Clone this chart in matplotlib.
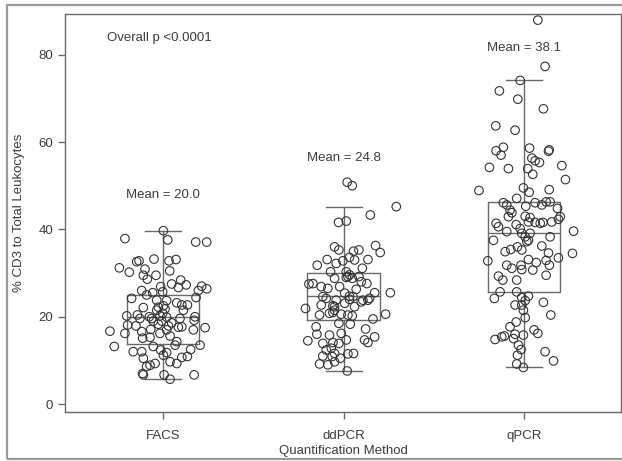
import matplotlib
matplotlib.use("Agg")
import matplotlib.pyplot as plt
from matplotlib.patches import Rectangle

plt.rcParams['font.family'] = ['Liberation Sans', 'DejaVu Sans']

methods = ["FACS", "ddPCR", "qPCR"]
means = [20.0, 24.8, 38.1]
whisker_low = [5.7, 7.5, 8.4]
q1 = [13.7, 19.2, 25.7]
medians = [20.0, 24.7, 39.2]
q3 = [25.0, 30.1, 46.3]
whisker_high = [39.6, 45.1, 74.1]
mean_label_y = [47.9, 56.4, 81.6]

# individual points: horizontal jitter and value
facs_dx = [0.002, -0.211, 0.026, 0.181, 0.242, -0.146, -0.133, -0.050, 0.033, 0.072,
           -0.242, -0.187, -0.100, -0.109, -0.039, 0.037, -0.087, 0.048, 0.098, 0.128,
           0.085, 0.214, 0.242, 0.196, -0.118, -0.013, -0.002, -0.091, -0.057, 0.183,
           -0.174, -0.035, 0.020, 0.076, 0.104, 0.135, -0.109, -0.026, 0.002, 0.113,
           -0.201, -0.142, -0.076, -0.063, -0.017, -0.002, 0.020, 0.177, 0.172, 0.094,
           0.048, 0.030, -0.294, -0.211, -0.196, -0.150, -0.118, -0.068, -0.017, 0.085,
           0.104, 0.168, 0.233, -0.113, -0.072, 0.039, 0.076, 0.067, -0.270, 0.205,
           -0.165, -0.118, -0.054, -0.013, 0.002, 0.020, -0.109, -0.072, 0.039, 0.076,
           0.104, 0.135, 0.153, -0.113, -0.109, 0.006, 0.039, 0.172, -0.044, -0.091,
           -0.035, -0.007, -0.026, 0.011, -0.054, 0.020, -0.128]
facs_y = [39.7, 37.9, 37.6, 37.1, 37.1, 32.6, 32.8, 33.2, 32.8, 33.1,
          31.2, 30.2, 30.9, 29.5, 29.5, 30.5, 28.6, 27.5, 28.4, 27.3,
          26.7, 27.0, 26.4, 26.0, 26.0, 26.9, 25.7, 25.0, 25.5, 24.4,
          24.2, 23.8, 23.7, 23.2, 22.7, 22.7, 22.1, 22.2, 22.5, 21.5,
          20.2, 20.4, 20.0, 19.6, 20.2, 20.8, 19.9, 20.0, 19.2, 19.6,
          18.6, 17.9, 16.7, 16.2, 18.1, 17.9, 16.6, 17.1, 16.2, 17.6,
          17.7, 17.0, 17.5, 15.1, 15.3, 15.6, 14.3, 13.5, 13.2, 13.5,
          12.0, 12.0, 13.2, 12.4, 11.2, 11.8, 10.5, 8.9, 9.7, 9.3,
          10.7, 10.9, 12.5, 7.0, 6.7, 6.7, 5.7, 6.7, 9.3, 8.6,
          21.5, 19.0, 18.3, 21.8, 19.0, 17.0, 19.6]

ddpcr_dx = [0.020, 0.048, 0.292, 0.148, -0.028, 0.015, -0.050, -0.026, 0.055, 0.085,
            0.177, 0.203, -0.091, 0.135, -0.146, -0.041, -0.004, 0.033, 0.061, 0.104,
            -0.072, -0.050, 0.015, 0.033, 0.048, 0.024, 0.085, 0.098, 0.129, -0.192,
            -0.170, -0.124, -0.087, -0.022, 0.070, 0.172, 0.144, 0.107, 0.259, -0.115,
            -0.096, 0.006, 0.033, 0.052, -0.041, -0.211, -0.124, -0.059, -0.050, 0.006,
            0.061, 0.098, 0.135, -0.133, -0.078, -0.013, 0.024, 0.048, 0.163, 0.233,
            -0.152, 0.037, -0.026, 0.122, -0.148, -0.078, -0.013, 0.015, 0.172, 0.116,
            0.135, -0.198, -0.115, -0.059, -0.026, -0.096, -0.068, -0.050, 0.024, 0.055,
            -0.115, -0.063, -0.018, -0.133, -0.087, -0.050, 0.020, 0.015, 0.033, -0.050,
            -0.059]
ddpcr_y = [50.8, 50.0, 45.2, 43.3, 41.6, 41.9, 36.0, 35.3, 35.0, 35.3,
           36.3, 34.7, 33.1, 33.1, 31.8, 32.2, 32.8, 33.6, 33.0, 31.1,
           30.3, 28.8, 30.3, 29.6, 28.8, 29.2, 29.2, 28.0, 27.6, 27.5,
           27.6, 26.9, 26.5, 26.9, 26.3, 25.5, 24.2, 23.8, 25.5, 24.6,
           24.2, 25.4, 24.7, 24.6, 23.8, 21.9, 22.7, 22.5, 22.3, 23.1,
           22.3, 23.4, 23.8, 20.4, 20.8, 20.6, 20.4, 20.2, 19.5, 20.6,
           17.7, 18.3, 18.5, 17.2, 16.0, 15.8, 16.2, 14.7, 15.4, 14.7,
           14.1, 14.5, 13.9, 14.1, 13.9, 12.4, 12.8, 11.6, 11.5, 11.6,
           11.0, 10.9, 10.5, 9.2, 9.0, 9.7, 7.6, 29.0, 24.0, 21.5,
           21.0]

qpcr_dx = [0.076, 0.116, -0.022, -0.137, -0.035, 0.107, -0.157, -0.050, -0.115, -0.155,
           -0.128, 0.030, 0.043, 0.061, 0.085, 0.139, 0.135, -0.192, -0.087, 0.020,
           0.048, 0.209, 0.229, -0.250, -0.004, 0.028, 0.139, -0.041, -0.115, -0.096,
           -0.078, -0.068, -0.087, 0.009, 0.061, 0.098, 0.122, 0.144, 0.185, 0.200,
           0.190, 0.006, 0.033, 0.024, 0.061, 0.089, 0.104, 0.153, -0.155, -0.142,
           -0.044, -0.022, -0.013, 0.006, 0.033, 0.024, 0.015, -0.096, 0.274, 0.144,
           -0.170, -0.105, -0.074, -0.037, -0.013, 0.098, 0.135, 0.268, -0.201, 0.024,
           0.067, 0.122, 0.140, 0.190, -0.096, -0.068, -0.017, -0.013, 0.048, 0.122,
           -0.142, -0.118, -0.041, -0.133, -0.041, -0.165, -0.013, 0.024, 0.006, -0.013,
           -0.004, 0.107, -0.050, 0.148, 0.006, -0.078, -0.044, 0.055, 0.076, -0.161,
           -0.124, -0.109, -0.059, -0.050, -0.004, -0.031, -0.017, -0.037, 0.116, 0.163,
           -0.041, -0.004]
qpcr_y = [87.9, 77.3, 74.1, 71.7, 69.8, 67.6, 63.7, 62.7, 58.8, 58.0,
          57.0, 58.6, 56.3, 55.7, 55.3, 58.2, 57.9, 54.2, 53.9, 53.9,
          52.6, 54.6, 51.4, 48.9, 49.5, 48.5, 49.1, 47.1, 46.1, 45.6,
          44.4, 43.8, 42.9, 45.3, 46.1, 45.6, 46.3, 46.3, 44.8, 42.9,
          42.3, 43.0, 42.7, 41.7, 41.6, 41.4, 41.6, 41.7, 41.4, 40.6,
          41.1, 40.2, 39.1, 38.3, 39.1, 37.5, 37.2, 39.5, 39.6, 38.3,
          37.5, 34.9, 35.4, 36.0, 35.3, 36.2, 34.6, 34.5, 32.8, 33.1,
          32.4, 32.9, 31.8, 33.5, 31.8, 31.1, 31.8, 30.8, 30.7, 29.5,
          29.3, 28.4, 28.4, 25.7, 25.7, 24.2, 24.4, 24.7, 23.7, 22.7,
          21.5, 23.3, 22.7, 20.4, 19.8, 17.7, 18.8, 17.0, 16.2, 14.8,
          15.4, 15.6, 15.0, 16.0, 15.8, 13.5, 12.5, 11.2, 12.0, 9.9,
          9.2, 8.4]

point_dx = [facs_dx, ddpcr_dx, qpcr_dx]
point_y = [facs_y, ddpcr_y, qpcr_y]

line_col = "#6a6a6a"
text_col = "#3c3c3c"

fig = plt.figure(figsize=(6.22, 4.61), dpi=100)
ax = fig.add_axes([0.1045, 0.1063, 0.894, 0.8633])

# outer frame around the whole panel
fig.patches.append(Rectangle((0.011, 0.005), 1.2, 0.984, transform=fig.transFigure,
                             fill=False, edgecolor="#9a9a9a", linewidth=1.6))

positions = [1, 2, 3]
stats = []
for i, name in enumerate(methods):
    stats.append({"label": name, "whislo": whisker_low[i], "q1": q1[i], "med": medians[i],
                  "q3": q3[i], "whishi": whisker_high[i], "fliers": []})

ax.bxp(stats, positions=positions, widths=0.4, capwidths=0.2, showfliers=False,
       boxprops=dict(color=line_col, linewidth=1.0),
       medianprops=dict(color=line_col, linewidth=1.0),
       whiskerprops=dict(color=line_col, linewidth=1.0),
       capprops=dict(color=line_col, linewidth=1.0), zorder=2)

for i, pos in enumerate(positions):
    xs = [pos + d for d in point_dx[i]]
    ax.scatter(xs, point_y[i], s=38, facecolors="none", edgecolors="#333333",
               linewidths=0.8, zorder=3)
    ax.text(pos, mean_label_y[i], f"Mean = {means[i]:.1f}", ha="center", va="center",
            fontsize=9.5, color=text_col)

ax.text(0.69, 83.8, "Overall p <0.0001", ha="left", va="center", fontsize=9.5, color=text_col)

ax.set_xlim(0.457, 3.537)
ax.set_ylim(-1.8, 89.3)
ax.set_xticks(positions)
ax.set_xticklabels(methods)
ax.set_yticks([0, 20, 40, 60, 80])
ax.tick_params(axis="both", colors=line_col, labelcolor=text_col, labelsize=9.5,
               length=5, width=1.0)
ax.tick_params(axis="x", pad=8)
ax.set_xlabel("Quantification Method", fontsize=9.5, color=text_col, labelpad=2)
ax.set_ylabel("% CD3 to Total Leukocytes", fontsize=9.5, color=text_col, labelpad=10)
for sp in ax.spines.values():
    sp.set_color(line_col)
    sp.set_linewidth(1.0)

fig.savefig("out.png", dpi=100)
